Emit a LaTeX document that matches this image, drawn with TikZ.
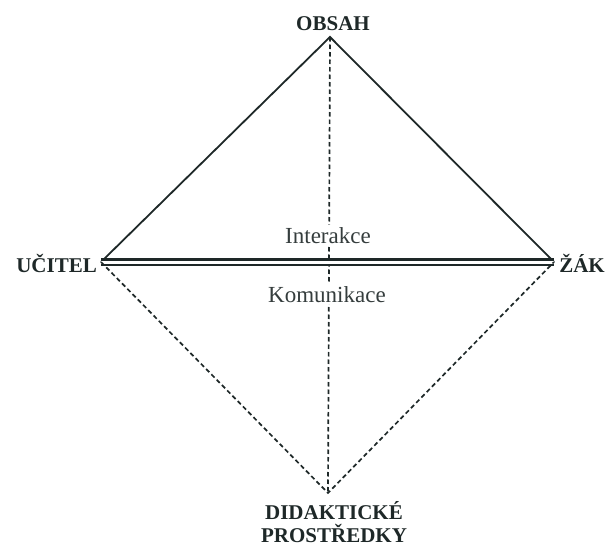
\documentclass[tikz,border=0pt]{standalone}
\usepackage{fontspec}
\setmainfont{Liberation Serif}
\definecolor{ink}{HTML}{1E2828}
\begin{document}
\begin{tikzpicture}[x=1pt,y=-1pt,
  solidedge/.style={line width=1.8pt, draw=ink},
  dashededge/.style={line width=1.7pt, draw=ink, dash pattern=on 4.5pt off 3pt},
  vertex/.style={inner sep=0pt, font=\fontsize{21}{23}\selectfont\bfseries, text=ink},
  midlabel/.style={fill=white, inner sep=2pt, font=\fontsize{23}{26}\selectfont, text=ink!90}]
\useasboundingbox (0,0) rectangle (606,549);
\coordinate (T) at (330,37);
\coordinate (L) at (101,262);
\coordinate (R) at (554,262);
\coordinate (B) at (328,493);
\node[vertex, anchor=base] (obsah) at (333,30) {OBSAH};
\node[vertex, anchor=base east] (ucitel) at (97,272) {UČITEL};
\node[vertex, anchor=base east] (zak) at (605,272) {ŽÁK};
\node[vertex, align=center, anchor=north] (dp) at (334,501) {DIDAKTICKÉ\\PROSTŘEDKY};
\draw[dashededge] (T) -- (B);
\node[midlabel, anchor=base] (inter) at (328,243) {Interakce};
\node[midlabel, anchor=base] (komu) at (327,302) {Komunikace};
\draw[solidedge] (L) -- (T) -- (R);
\draw[line width=2.3pt, draw=ink, double=white, double distance=3pt] (L) -- (R);
\draw[dashededge] (L) -- (B) -- (R);
\end{tikzpicture}
\end{document}
